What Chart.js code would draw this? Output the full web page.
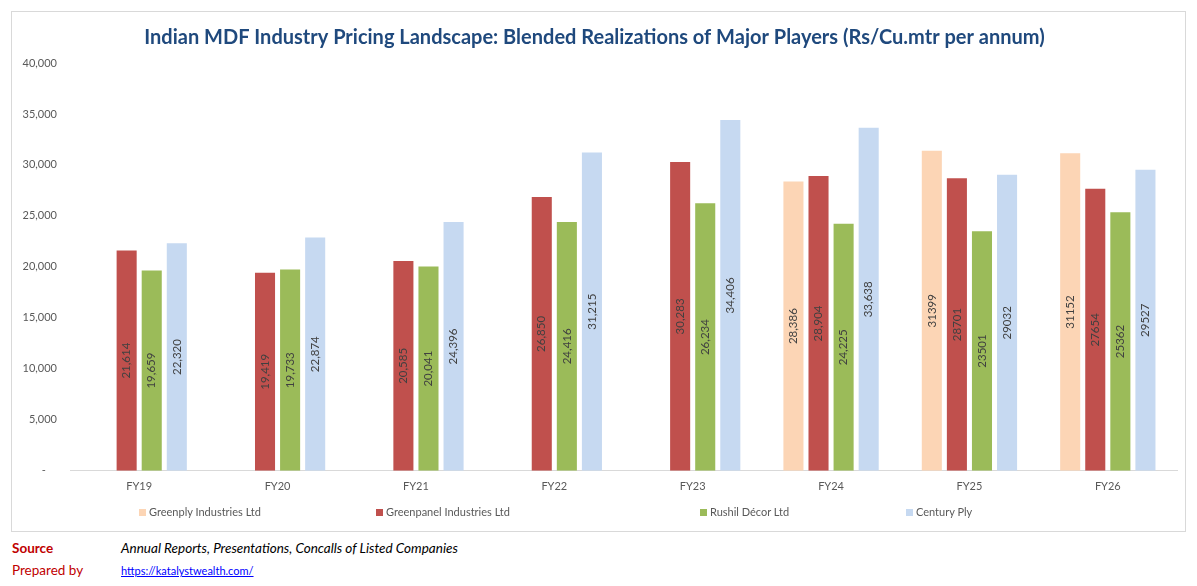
<!DOCTYPE html>
<html>
<head>
<meta charset="utf-8">
<script src="https://cdn.jsdelivr.net/npm/chart.js@4.4.1/dist/chart.umd.min.js"></script>
<style>
  body { margin: 0; background: #fff; width: 1197px; height: 586px; position: relative; overflow: hidden; font-family: Lato, 'Noto Sans', sans-serif; }
  #box { position: absolute; left: 11px; top: 11px; width: 1175px; height: 521px; border: 1px solid #D9D9D9; box-sizing: border-box; }
  #box canvas { position: absolute; left: 0; top: 0; }
  .leg { position: absolute; top: 505px; font-size: 11px; color: #595959; line-height: 14px; white-space: nowrap; }
  .leg i { display: inline-block; width: 7px; height: 7px; margin-right: 3px; vertical-align: 0px; }
  .foot { position: absolute; font-size: 13.5px; line-height: 18px; white-space: nowrap; }
</style>
</head>
<body>
<div id="box"><canvas id="chart" width="1173" height="519"></canvas></div>
<div id="legend"></div>
<div class="foot" style="left:12px;top:539px;color:#C00000;font-weight:bold;">Source</div>
<div class="foot" style="left:121px;top:539px;font-style:italic;color:#000;">Annual Reports, Presentations, Concalls of Listed Companies</div>
<div class="foot" style="left:12px;top:561px;color:#C00000;">Prepared by</div>
<div class="foot" style="left:121px;top:562px;font-size:11px;color:#0000FF;text-decoration:underline;">https://katalystwealth.com/</div>
<script>
// categories and series
const years = ['FY19', 'FY20', 'FY21', 'FY22', 'FY23', 'FY24', 'FY25', 'FY26'];
const companies = ['Greenply Industries Ltd', 'Greenpanel Industries Ltd', 'Rushil Décor Ltd', 'Century Ply'];
const greenply = [null, null, null, null, null, 28386, 31399, 31152];
const greenpanel = [21614, 19419, 20585, 26850, 30283, 28904, 28701, 27654];
const rushil = [19659, 19733, 20041, 24416, 26234, 24225, 23501, 25362];
const century = [22320, 22874, 24396, 31215, 34406, 33638, 29032, 29527];
const yTicks = [0, 5000, 10000, 15000, 20000, 25000, 30000, 35000, 40000];
// years whose labels show thousands separators in the source
const commaYears = ['FY19', 'FY20', 'FY21', 'FY22', 'FY23', 'FY24'];

const colors = ['#FCD5B5', '#C0504D', '#9BBB59', '#C6D9F1'];
const series = [greenply, greenpanel, rushil, century];

// legend (html, spaced like the excel one)
const legendX = [139, 376, 700, 906];
const legend = document.getElementById('legend');
companies.forEach((name, i) => {
  const d = document.createElement('div');
  d.className = 'leg';
  d.style.left = legendX[i] + 'px';
  d.innerHTML = '<i style="background:' + colors[i] + '"></i>' + name;
  legend.appendChild(d);
});

// rotated value labels in the middle of each bar
const barLabels = {
  id: 'barLabels',
  afterDatasetsDraw(chart) {
    const ctx = chart.ctx;
    ctx.save();
    ctx.font = '11.5px Lato, "Noto Sans", sans-serif';
    ctx.fillStyle = '#404040';
    ctx.textAlign = 'center';
    ctx.textBaseline = 'middle';
    chart.data.datasets.forEach((ds, di) => {
      const meta = chart.getDatasetMeta(di);
      meta.data.forEach((bar, i) => {
        const v = ds.data[i];
        if (v === null) return;
        const txt = commaYears.includes(years[i]) ? v.toLocaleString('en-US') : String(v);
        ctx.save();
        ctx.translate(bar.x, (bar.y + bar.base) / 2);
        ctx.rotate(-Math.PI / 2);
        ctx.fillText(txt, 0, 0);
        ctx.restore();
      });
    });
    ctx.restore();
  }
};

new Chart(document.getElementById('chart'), {
  type: 'bar',
  data: {
    labels: years,
    datasets: companies.map((name, i) => ({
      label: name,
      data: series[i],
      backgroundColor: colors[i],
      categoryPercentage: 0.725,
      barPercentage: 0.8
    }))
  },
  options: {
    responsive: false,
    animation: false,
    layout: { padding: { top: 0, right: 8, bottom: 29, left: 0 } },
    plugins: {
      legend: { display: false },
      tooltip: { enabled: false },
      title: {
        display: true,
        text: 'Indian MDF Industry Pricing Landscape: Blended Realizations of Major Players (Rs/Cu.mtr per annum)',
        color: '#1F497D',
        font: { family: 'Lato, "Noto Sans", sans-serif', size: 20, weight: 'bold' },
        padding: { top: 14, bottom: 13 }
      }
    },
    scales: {
      x: {
        grid: { display: false, drawTicks: false },
        border: { display: true, color: '#D9D9D9', width: 1 },
        ticks: { color: '#595959', font: { family: 'Lato, "Noto Sans", sans-serif', size: 11 }, padding: 9 }
      },
      y: {
        min: 0,
        max: 40000,
        afterFit(scale) { scale.width = 58; },
        afterBuildTicks(scale) { scale.ticks = yTicks.map(v => ({ value: v })); },
        grid: { display: false, drawTicks: false },
        border: { display: false },
        ticks: {
          color: '#595959',
          font: { family: 'Lato, "Noto Sans", sans-serif', size: 11 },
          padding: 13,
          callback: v => v === 0 ? '-    ' : v.toLocaleString('en-US')
        }
      }
    }
  },
  plugins: [barLabels]
});
</script>
</body>
</html>
